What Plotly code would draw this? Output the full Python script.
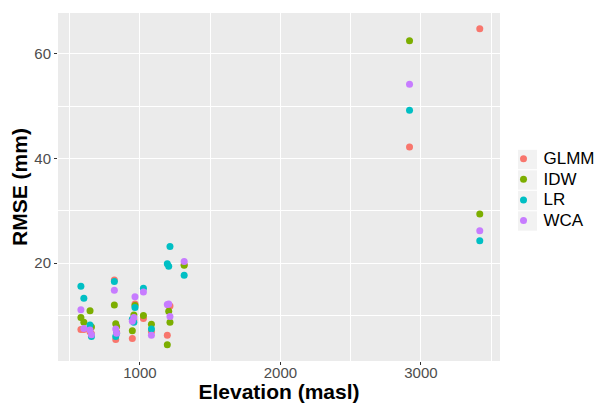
import plotly.graph_objects as go

elevation = [580, 601, 645, 655, 818, 828, 834, 946, 957, 965, 1025, 1082,
             1195, 1205, 1214, 1315, 2919, 3419]
glmm = [7.3, 7.3, 6.9, 6.5, 16.8, 5.4, 6.8, 5.6, 9.2, 12.2, 9.4, 6.9,
        6.2, 11.9, 11.8, 19.7, 42.2, 64.8]
idw = [9.6, 8.7, 10.9, 7.8, 12.0, 8.4, 7.9, 7.1, 10.1, 11.9, 10.0, 8.3,
       4.4, 10.8, 8.7, 19.6, 62.5, 29.4]
lr = [15.6, 13.3, 8.2, 6.0, 16.5, 6.0, 6.6, 9.3, 8.7, 11.5, 15.2, 7.4,
      19.9, 19.4, 23.2, 17.7, 49.2, 24.3]
wca = [11.1, 7.5, 7.2, 6.3, 14.8, 7.4, 6.6, 8.9, 9.6, 13.6, 14.5, 6.2,
       12.1, 12.2, 9.8, 20.3, 54.2, 26.2]

methods = ["GLMM", "IDW", "LR", "WCA"]
series = [glmm, idw, lr, wca]
colors = ["#F8766D", "#7CAE00", "#00BFC4", "#C77CFF"]

x_ticks = [1000, 2000, 3000]
y_ticks = [20, 40, 60]

fig = go.Figure()
for name, vals, col in zip(methods, series, colors):
    fig.add_trace(go.Scatter(
        x=elevation, y=vals, mode="markers",
        name="<span style='font-size:17px'>" + name + "</span>",
        marker=dict(color=col, size=7, line=dict(width=0))))

font_family = "Liberation Sans, Arial, sans-serif"

# legend key backgrounds (ggplot style grey squares)
W, H = 596, 403
ml, mr, mt, mb = 58, 96, 13, 42
pw, ph = W - ml - mr, H - mt - mb
key_cx = 527.5
row_h = 20.5
rows_cy = [159.5 + i * row_h for i in range(4)]
shapes = []
for cy in rows_cy:
    x0, x1 = key_cx - 9.5, key_cx + 9.5
    y0, y1 = cy - 9.7, cy + 9.7
    shapes.append(dict(type="rect", xref="paper", yref="paper", layer="below",
                       x0=(x0 - ml) / pw, x1=(x1 - ml) / pw,
                       y0=1 - (y1 - mt) / ph, y1=1 - (y0 - mt) / ph,
                       fillcolor="#F2F2F2", line=dict(width=0)))

fig.update_layout(
    width=W, height=H,
    margin=dict(l=ml, r=mr, t=mt, b=mb, autoexpand=False),
    paper_bgcolor="white",
    plot_bgcolor="#EBEBEB",
    font=dict(family=font_family, color="#4D4D4D", size=15),
    showlegend=True,
    legend=dict(x=(503.5 - ml) / pw, xanchor="left",
                y=1 - (190 - mt) / ph, yanchor="middle",
                font=dict(size=13.5, color="black"), bgcolor="rgba(0,0,0,0)",
                tracegroupgap=0, itemwidth=30),
    shapes=shapes,
)
fig.update_xaxes(
    range=[417, 3563], tickvals=x_ticks, ticktext=[str(v) for v in x_ticks],
    showgrid=True, gridcolor="white", gridwidth=1.1,
    minor=dict(dtick=500, tick0=500, showgrid=True, gridcolor="white", gridwidth=0.5),
    ticks="outside", ticklen=3, tickcolor="#333333", tickwidth=1,
    ticklabelstandoff=-5,
    tickfont=dict(size=15, color="#4D4D4D"),
    zeroline=False, showline=False, automargin=False,
    title=dict(text="<b>Elevation (masl)</b>", font=dict(size=21, color="black"), standoff=8),
)
fig.update_yaxes(
    range=[1.3, 67.8], tickvals=y_ticks, ticktext=[str(v) for v in y_ticks],
    showgrid=True, gridcolor="white", gridwidth=1.1,
    minor=dict(dtick=10, tick0=10, showgrid=True, gridcolor="white", gridwidth=0.5),
    ticks="outside", ticklen=3, tickcolor="#333333", tickwidth=1,
    tickfont=dict(size=15, color="#4D4D4D"),
    zeroline=False, showline=False, automargin=False,
    title=dict(text="<b>RMSE (mm)</b>", font=dict(size=21, color="black"), standoff=0),
)

fig.write_html("out.html")
